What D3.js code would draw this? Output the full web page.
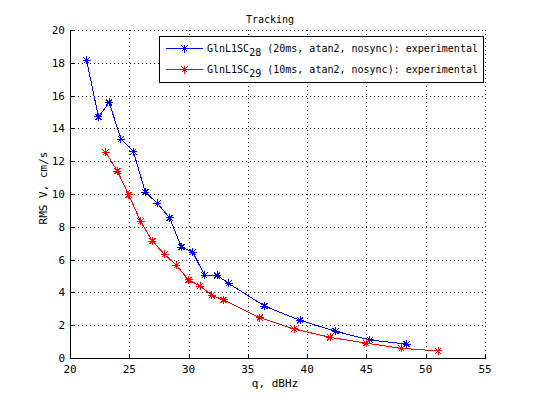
<!DOCTYPE html>
<html>
<head>
<meta charset="utf-8">
<script src="https://cdn.jsdelivr.net/npm/d3@7"></script>
<style>
  body { margin: 0; background: #fff; }
  svg { shape-rendering: crispEdges; }
  text { font-family: "DejaVu Sans Mono", monospace; fill: #000; }
</style>
</head>
<body>
<svg width="536" height="402"></svg>
<script>
// values
const blueQ = [21.4, 22.4, 23.3, 24.3, 25.35, 26.35, 27.37, 28.4, 29.4, 30.35, 31.35, 32.4, 33.37, 36.4, 39.4, 42.4, 45.3, 48.4];
const blueV = [18.15, 14.7, 15.58, 13.35, 12.58, 10.12, 9.43, 8.55, 6.76, 6.46, 5.04, 5.04, 4.55, 3.17, 2.3, 1.63, 1.1, 0.85];
const redQ = [23.0, 24.0, 24.95, 25.95, 26.95, 27.97, 28.98, 30.0, 30.98, 31.95, 32.95, 36.0, 38.9, 41.95, 45.0, 47.96, 51.05];
const redV = [12.54, 11.4, 9.94, 8.33, 7.13, 6.32, 5.65, 4.76, 4.39, 3.82, 3.54, 2.46, 1.77, 1.26, 0.9, 0.59, 0.43];
const xTicks = [20, 25, 30, 35, 40, 45, 50, 55];
const yTicks = [0, 2, 4, 6, 8, 10, 12, 14, 16, 18, 20];
const seriesNames = [
  ["GlnL1SC", "28", " (20ms, atan2, nosync): experimental"],
  ["GlnL1SC", "29", " (10ms, atan2, nosync): experimental"]
];
const seriesColors = ["#0000ff", "#ff0000"];

const svg = d3.select("svg");
const plotL = 70, plotR = 485, plotT = 30, plotB = 358;

const x = d3.scaleLinear().domain([20, 55]).range([plotL, plotR]);
const y = d3.scaleLinear().domain([0, 20]).range([plotB, plotT]);

// dotted grid (top and right edges come out dotted too)
const grid = svg.append("g")
  .attr("stroke", "#000")
  .attr("stroke-width", 1)
  .attr("stroke-dasharray", "1,3");
grid.selectAll(".gx").data(xTicks.slice(1)).enter().append("line")
  .attr("x1", d => Math.round(x(d)) + 0.5).attr("x2", d => Math.round(x(d)) + 0.5)
  .attr("y1", plotT).attr("y2", plotB);
grid.selectAll(".gy").data(yTicks.slice(1)).enter().append("line")
  .attr("x1", plotL).attr("x2", plotR)
  .attr("y1", d => Math.round(y(d)) + 0.5).attr("y2", d => Math.round(y(d)) + 0.5);

// solid left and bottom axes, inward ticks
const axes = svg.append("g").attr("stroke", "#000").attr("stroke-width", 1);
axes.append("line").attr("x1", plotL + 0.5).attr("x2", plotL + 0.5).attr("y1", plotT).attr("y2", plotB + 0.5);
axes.append("line").attr("x1", plotL).attr("x2", plotR + 1).attr("y1", plotB + 0.5).attr("y2", plotB + 0.5);
axes.selectAll(".tx").data(xTicks).enter().append("line")
  .attr("x1", d => Math.round(x(d)) + 0.5).attr("x2", d => Math.round(x(d)) + 0.5)
  .attr("y1", plotB).attr("y2", plotB - 4);
axes.selectAll(".ty").data(yTicks).enter().append("line")
  .attr("x1", plotL).attr("x2", plotL + 4)
  .attr("y1", d => Math.round(y(d)) + 0.5).attr("y2", d => Math.round(y(d)) + 0.5);

svg.append("g").selectAll("text").data(xTicks).enter().append("text")
  .attr("x", d => x(d)).attr("y", plotB + 15)
  .attr("text-anchor", "middle").attr("font-size", 11)
  .text(d => d);
svg.append("g").selectAll("text").data(yTicks).enter().append("text")
  .attr("x", plotL - 5).attr("y", d => y(d) + 4)
  .attr("text-anchor", "end").attr("font-size", 11)
  .text(d => d);

svg.append("text").attr("x", 270).attr("y", 23)
  .attr("text-anchor", "middle").attr("font-size", 10).text("Tracking");
svg.append("text").attr("x", 275).attr("y", 387)
  .attr("text-anchor", "middle").attr("font-size", 11).text("q, dBHz");
svg.append("text").attr("transform", "translate(47,188) rotate(-90)")
  .attr("text-anchor", "middle").attr("font-size", 11).text("RMS V, cm/s");

// star marker like MATLAB '*'
function star(g, cx, cy, color) {
  const s = g.append("g").attr("stroke", color).attr("stroke-width", 1);
  s.append("line").attr("x1", cx - 4).attr("x2", cx + 4).attr("y1", cy).attr("y2", cy);
  s.append("line").attr("x1", cx).attr("x2", cx).attr("y1", cy - 4).attr("y2", cy + 4);
  s.append("line").attr("x1", cx - 3).attr("x2", cx + 3).attr("y1", cy - 3).attr("y2", cy + 3);
  s.append("line").attr("x1", cx - 3).attr("x2", cx + 3).attr("y1", cy + 3).attr("y2", cy - 3);
}

const series = [
  d3.zip(blueQ, blueV),
  d3.zip(redQ, redV)
];
const line = d3.line().x(d => x(d[0])).y(d => y(d[1]));

series.forEach((pts, i) => {
  const g = svg.append("g");
  g.append("path").datum(pts)
    .attr("d", line).attr("fill", "none")
    .attr("stroke", seriesColors[i]).attr("stroke-width", 1);
  pts.forEach(p => star(g, x(p[0]), y(p[1]), seriesColors[i]));
});

// legend
const leg = svg.append("g");
leg.append("rect").attr("x", 159.5).attr("y", 36.5).attr("width", 324).attr("height", 46)
  .attr("fill", "#fff").attr("stroke", "#000");
seriesNames.forEach((nm, i) => {
  const ly = 48 + i * 21;
  leg.append("line").attr("x1", 166).attr("x2", 203).attr("y1", ly + 0.5).attr("y2", ly + 0.5)
    .attr("stroke", seriesColors[i]);
  star(leg, 184.5, ly + 0.5, seriesColors[i]);
  const t = leg.append("text").attr("x", 207).attr("y", ly + 4).attr("font-size", 10);
  t.append("tspan").text(nm[0]);
  t.append("tspan").attr("dy", 4).text(nm[1]);
  t.append("tspan").attr("dy", -4).text(nm[2]);
});
</script>
</body>
</html>
